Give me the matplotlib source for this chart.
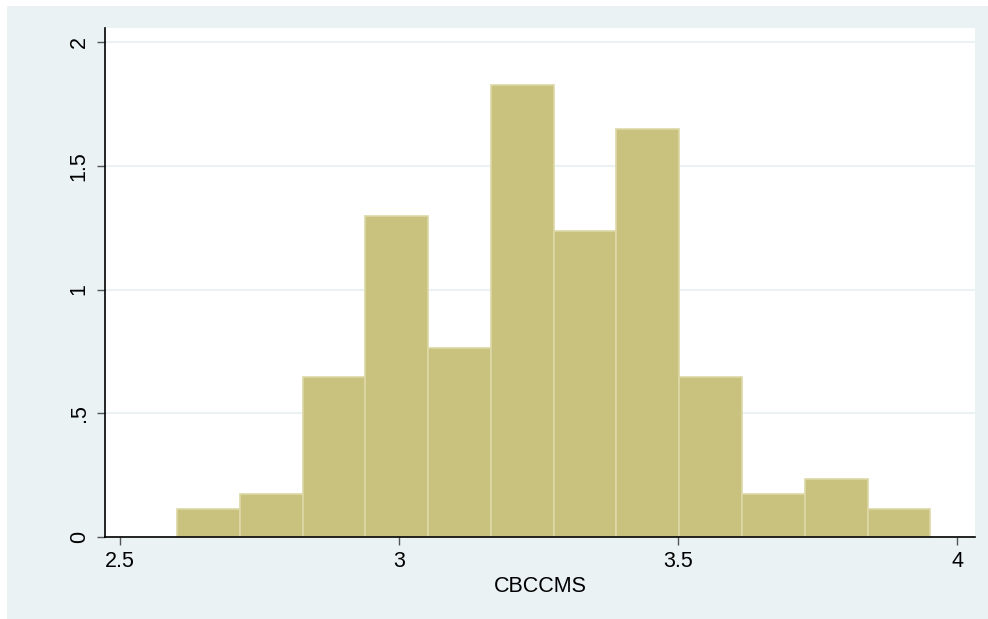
import matplotlib
matplotlib.use("Agg")
import matplotlib.pyplot as plt
from matplotlib.patches import Rectangle

# Data: histogram bins (density)
bin_start = 2.602
bin_width = 0.1125
densities = [0.113, 0.174, 0.646, 1.297, 0.764, 1.826, 1.236, 1.648, 0.646, 0.174, 0.234, 0.113]
x_ticks = [2.5, 3, 3.5, 4]
x_tick_labels = ["2.5", "3", "3.5", "4"]
y_ticks = [0, 0.5, 1, 1.5, 2]
y_tick_labels = ["0", ".5", "1", "1.5", "2"]
x_label = "CBCCMS"

plt.rcParams['font.family'] = ['Liberation Sans', 'DejaVu Sans']

W, H = 988, 619
fig = plt.figure(figsize=(W / 100, H / 100), dpi=100, facecolor="white")
panel_color = "#EAF2F3"
fig.patches.append(Rectangle((7 / W, 0), 1 - 7 / W, (H - 6) / H,
                             transform=fig.transFigure, facecolor=panel_color,
                             edgecolor="none", zorder=-10))

ax = fig.add_axes([105 / W, (H - 537) / H, (975 - 105) / W, (537 - 28) / H])
ax.set_zorder(1)
ax.set_facecolor("white")

lefts = [bin_start + i * bin_width for i in range(len(densities))]
ax.bar(lefts, densities, width=bin_width, align="edge", color="#C9C27F",
       edgecolor="#DDD8A6", linewidth=1.2, zorder=3)

ax.set_xlim(2.473, 4.032)
ax.set_ylim(0, 2.057)
ax.set_xticks(x_ticks)
ax.set_xticklabels(x_tick_labels, fontsize=15.5)
ax.set_yticks(y_ticks)
ax.set_yticklabels(y_tick_labels, fontsize=15.5, rotation=90, va="center")
ax.tick_params(axis="both", direction="out", length=6, width=1, color="#555555",
               labelcolor="black")
ax.tick_params(axis="x", pad=4)
ax.tick_params(axis="y", pad=5)
ax.yaxis.grid(True, color=panel_color, linewidth=1.5, zorder=1)
ax.set_axisbelow(True)
for s in ["top", "right"]:
    ax.spines[s].set_visible(False)
for s in ["left", "bottom"]:
    ax.spines[s].set_color("black")
    ax.spines[s].set_linewidth(1.2)
    ax.spines[s].set_zorder(4)
ax.set_xlabel(x_label, fontsize=15.5, labelpad=3)

fig.savefig("out.png", dpi=100, facecolor="white")
